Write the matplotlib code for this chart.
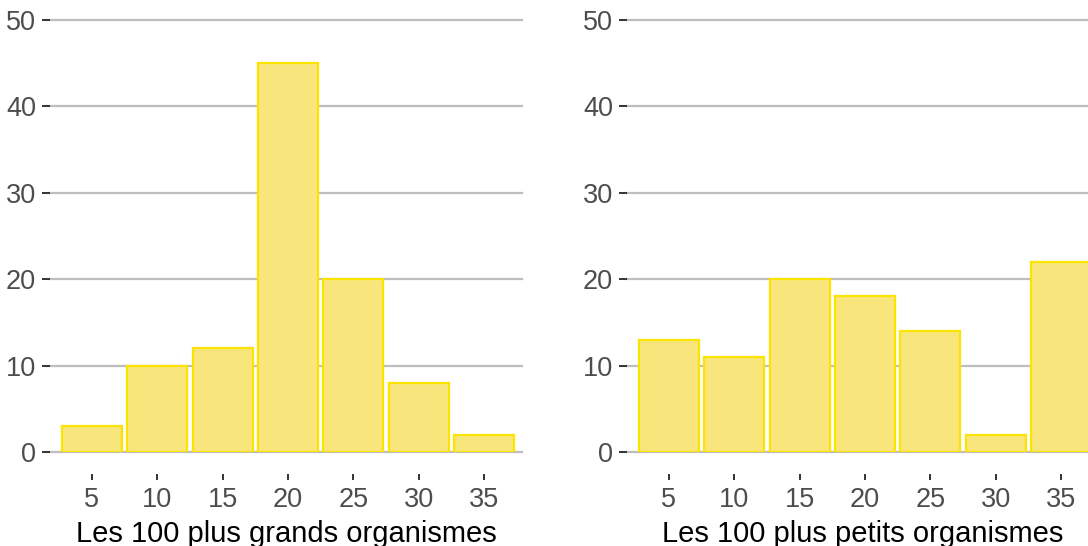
import matplotlib
matplotlib.use("Agg")
import matplotlib.pyplot as plt

plt.rcParams["font.family"] = ["Liberation Sans", "DejaVu Sans"]

# bins (centre of each 5-unit class) and counts per panel
bins = [5, 10, 15, 20, 25, 30, 35]
counts_big = [3, 10, 12, 45, 20, 8, 2]
counts_small = [13, 11, 20, 18, 14, 2, 22]
titles = ["Les 100 plus grands organismes", "Les 100 plus petits organismes"]
yticks = [0, 10, 20, 30, 40, 50]

FILL = "#F8E67C"
EDGE = "#FDE300"
GRID = "#BEBEBE"
TXT = "#4D4D4D"

W, H = 1088, 546
fig = plt.figure(figsize=(W / 100, H / 100), dpi=100)

# axes boxes in pixels: left, top(y=50), right, bottom(y=0)
boxes = [(50, 20, 522, 452), (627, 20, 1099, 452)]

for (x0, y0, x1, y1), counts, title in zip(boxes, [counts_big, counts_small], titles):
    ax = fig.add_axes([x0 / W, 1 - y1 / H, (x1 - x0) / W, (y1 - y0) / H])
    ax.bar(bins, counts, width=4.6, color=FILL, edgecolor=EDGE, linewidth=1.6, zorder=3)
    ax.set_xlim(1.79, 37.9)
    ax.set_ylim(0, 50)
    ax.set_yticks(yticks)
    ax.set_xticks(bins)
    ax.yaxis.grid(True, color=GRID, linewidth=1.6, zorder=0)
    for g in ax.yaxis.get_gridlines():
        g.set_clip_on(False)
    for s in ["top", "right", "left"]:
        ax.spines[s].set_visible(False)
    ax.spines["bottom"].set_position(("outward", 16))
    ax.spines["bottom"].set_visible(False)
    ax.tick_params(axis="y", length=6, width=1.4, color="#333333", pad=4,
                   labelsize=19.5, labelcolor=TXT)
    ax.tick_params(axis="x", length=4.5, width=1.4, color="#333333", pad=5,
                   labelsize=19.5, labelcolor=TXT)
    ax.set_xlabel(title, fontsize=21, color="black", labelpad=5)
    ax.set_facecolor("none")

fig.savefig("out.png", dpi=100)
